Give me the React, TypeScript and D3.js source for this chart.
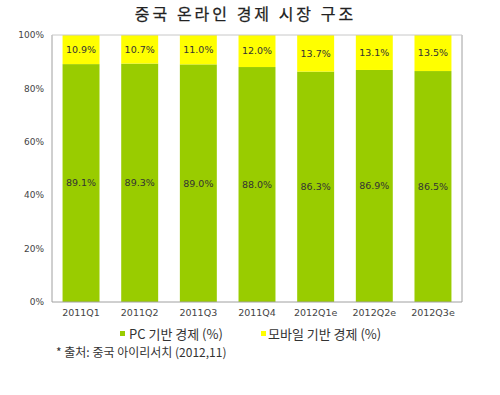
import React from 'react';
import * as d3 from 'd3';

const categories = ['2011Q1', '2011Q2', '2011Q3', '2011Q4', '2012Q1e', '2012Q2e', '2012Q3e'];
const pcValues = [89.1, 89.3, 89.0, 88.0, 86.3, 86.9, 86.5];
const mobileValues = [10.9, 10.7, 11.0, 12.0, 13.7, 13.1, 13.5];
const yTicks = [0, 20, 40, 60, 80, 100];
const seriesNames = ['PC 기반 경제 (%)', '모바일 기반 경제 (%)'];

const W = 500;
const H = 395;
const margin = { top: 35, right: 38, bottom: 93, left: 52 };
const numFont = "'DejaVu Sans', sans-serif";
const krFont = "'Noto Sans CJK KR', sans-serif";

export default function App() {
  const innerW = W - margin.left - margin.right;
  const innerH = H - margin.top - margin.bottom;

  const x = d3.scaleBand().domain(categories).range([0, innerW]).paddingInner(0.37).paddingOuter(0.18);
  const y = d3.scaleLinear().domain([0, 100]).range([innerH, 0]);

  const rows = categories.map((c, i) => ({ c, pc: pcValues[i], mo: mobileValues[i] }));

  return (
    <svg width={W} height={H} style={{ position: 'absolute', left: 0, top: 0, background: '#fff' }}>
      <text x={245.5} y={19.5} textAnchor="middle" fontFamily={krFont} fontSize={16} fontWeight={400}
        letterSpacing={3} fill="#222" stroke="#222" strokeWidth={0.25}>
        중국 온라인 경제 시장 구조
      </text>
      <g transform={`translate(${margin.left},${margin.top})`}>
        {rows.map(d => {
          const bx = x(d.c) as number;
          const yPc = y(d.pc);
          const yTop = y(d.pc + d.mo);
          return (
            <g key={d.c}>
              <rect x={bx} y={yPc} width={x.bandwidth()} height={innerH - yPc} fill="#99cc00" />
              <rect x={bx} y={yTop} width={x.bandwidth()} height={yPc - yTop} fill="#ffff00" />
              <text x={bx + x.bandwidth() / 2} y={(yPc + innerH) / 2} dy="0.35em" textAnchor="middle"
                fontFamily={numFont} fontSize={9.5} fill="#333">
                {d.pc.toFixed(1)}%
              </text>
              <text x={bx + x.bandwidth() / 2} y={(yPc + yTop) / 2} dy="0.35em" textAnchor="middle"
                fontFamily={numFont} fontSize={9.5} fill="#333">
                {d.mo.toFixed(1)}%
              </text>
            </g>
          );
        })}
        {/* plot frame */}
        <line x1={0} y1={0} x2={0} y2={innerH} stroke="#a0a0a0" />
        <line x1={0} y1={innerH} x2={innerW} y2={innerH} stroke="#a0a0a0" />
        <line x1={innerW} y1={0} x2={innerW} y2={innerH} stroke="#a0a0a0" />
        <line x1={0} y1={0} x2={innerW} y2={0} stroke="#c8c8c8" />
        {yTicks.map(t => (
          <text key={t} x={-8} y={y(t)} dy="0.35em" textAnchor="end" fontFamily={numFont}
            fontSize={9} fill="#444">
            {t}%
          </text>
        ))}
        {categories.map(c => (
          <text key={c} x={(x(c) as number) + x.bandwidth() / 2} y={innerH + 14} textAnchor="middle"
            fontFamily={numFont} fontSize={9.5} fill="#444">
            {c}
          </text>
        ))}
      </g>
      {/* legend */}
      <rect x={120} y={331} width={5} height={5} fill="#99cc00" />
      <text x={129} y={338.5} fontFamily={krFont} fontSize={13} fill="#333">{seriesNames[0]}</text>
      <rect x={261} y={331} width={5} height={5} fill="#ffff00" />
      <text x={268} y={338.5} fontFamily={krFont} fontSize={13} fill="#333">{seriesNames[1]}</text>
      <text x={56} y={357} fontFamily={krFont} fontSize={12} fill="#333">* 출처: 중국 아이리서치 (2012,11)</text>
    </svg>
  );
}
